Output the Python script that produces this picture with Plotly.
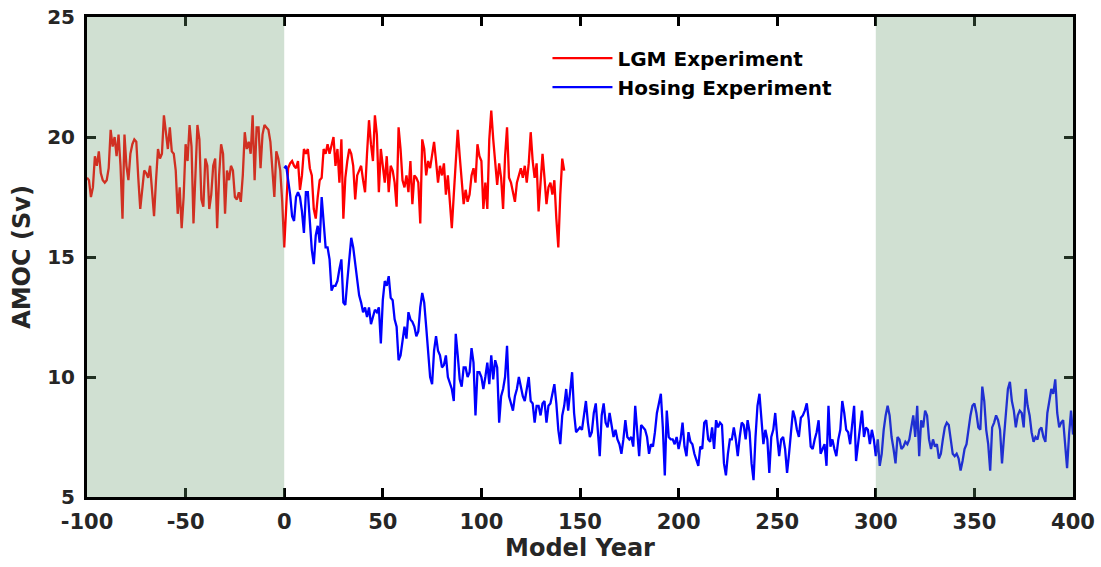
import plotly.graph_objects as go

# ---- data ----
lgm_start_year = -100
lgm_amoc = [
    18.3, 18.2, 17.5, 17.9, 19.2, 18.8, 19.4, 18.5, 18.2, 18.1,   # -100..-91
    18.2, 18.7, 20.3, 19.6, 20.0, 19.2, 20.1, 18.8, 16.6, 20.1,   # -90..-81
    18.8, 18.2, 19.3, 19.7, 19.9, 19.8, 18.3, 17.0, 17.8, 18.6,   # -80..-71
    18.5, 18.3, 18.8, 17.6, 16.7, 18.2, 19.5, 19.1, 19.3, 20.9,   # -70..-61
    20.1, 19.5, 20.4, 19.4, 19.3, 18.6, 16.8, 17.9, 16.2, 17.5,   # -60..-51
    19.7, 19.0, 20.5, 19.6, 16.4, 18.5, 20.5, 19.9, 17.4, 17.1,   # -50..-41
    19.1, 18.8, 17.0, 17.6, 18.8, 19.1, 16.2, 18.4, 19.7, 19.3,   # -40..-31
    16.8, 18.6, 18.2, 18.8, 18.6, 17.5, 17.4, 17.7, 17.3, 18.4,   # -30..-21
    20.2, 19.5, 19.8, 19.3, 20.9, 18.2, 20.4, 20.4, 18.7, 20.1,   # -20..-11
    20.5, 20.4, 20.3, 19.8, 18.4, 17.5, 19.4, 19.1, 18.6, 17.3,   # -10..-1
    15.4, 17.2, 18.7, 18.9, 19.0, 18.8, 18.7, 19.0, 17.8, 18.4,   # 0..9
    19.5, 19.3, 19.5, 18.7, 18.4, 17.0, 16.6, 17.5, 18.2, 18.3,   # 10..19
    19.5, 19.3, 19.7, 19.3, 19.6, 20.0, 18.8, 19.5, 18.1, 19.9,   # 20..29
    16.6, 18.3, 19.0, 19.5, 19.3, 18.8, 17.4, 18.4, 18.6, 18.8,   # 30..39
    18.2, 17.7, 19.3, 20.7, 19.7, 19.0, 20.9, 20.1, 17.7, 19.5,   # 40..49
    18.8, 18.1, 19.2, 17.7, 18.8, 18.6, 18.1, 17.1, 20.4, 19.5,   # 50..59
    18.2, 17.9, 18.4, 17.7, 19.0, 17.2, 18.4, 18.3, 18.1, 16.4,   # 60..69
    19.9, 19.5, 18.4, 19.0, 18.7, 19.2, 19.8, 19.0, 18.1, 18.8,   # 70..79
    18.4, 18.9, 17.6, 18.4, 17.3, 16.2, 17.6, 19.2, 20.3, 19.2,   # 80..89
    18.3, 17.2, 17.8, 17.3, 17.6, 18.4, 18.7, 18.1, 19.7, 19.2,   # 90..99
    19.0, 17.0, 18.1, 17.0, 19.9, 21.1, 19.9, 18.8, 18.0, 18.9,   # 100..109
    18.3, 17.0, 19.2, 20.4, 18.3, 18.1, 17.7, 17.3, 18.1, 18.4,   # 110..119
    18.7, 18.3, 18.8, 18.1, 18.9, 20.2, 19.0, 18.3, 18.9, 16.9,   # 120..129
    18.3, 19.3, 18.3, 17.2, 17.9, 18.1, 17.6, 18.2, 16.6, 15.4,   # 130..139
    17.6, 19.1, 18.6,                                             # 140..142
]

hosing_start_year = 0
hosing_amoc = [
    18.7, 18.8, 18.2, 17.6, 16.7, 16.5, 17.5, 17.7, 17.5, 16.9,   # 0..9
    16.0, 17.7, 17.7, 16.3, 15.3, 14.7, 15.9, 16.3, 15.6, 17.5,   # 10..19
    16.3, 15.4, 15.4, 14.9, 13.6, 13.8, 13.8, 14.0, 14.5, 14.9,   # 20..29
    13.1, 13.0, 14.0, 14.9, 15.8, 15.4, 14.7, 14.2, 13.4, 13.1,   # 30..39
    12.7, 12.9, 12.5, 12.9, 12.2, 12.5, 12.8, 12.7, 12.9, 11.4,   # 40..49
    13.2, 14.0, 13.8, 14.2, 13.3, 13.2, 12.4, 12.1, 10.7, 10.9,   # 50..59
    11.5, 12.1, 11.6, 12.7, 12.4, 12.3, 12.1, 11.7, 11.9, 12.9,   # 60..69
    13.5, 13.1, 12.1, 10.9, 10.0, 9.7, 11.1, 11.7, 11.1, 10.9,    # 70..79
    10.4, 10.5, 10.9, 10.0, 9.7, 9.5, 9.0, 11.8, 10.9, 9.9,       # 80..89
    9.6, 10.4, 10.4, 10.0, 10.2, 11.2, 10.6, 8.4, 10.2, 10.2,     # 90..99
    10.0, 9.5, 10.0, 10.6, 9.7, 10.9, 9.9, 10.7, 10.4, 8.1,       # 100..109
    9.2, 9.5, 10.0, 11.3, 9.2, 8.9, 8.6, 9.2, 9.5, 10.0,          # 110..119
    9.6, 9.2, 9.0, 9.6, 10.0, 9.0, 8.9, 8.1, 8.8, 8.8,            # 120..129
    8.4, 8.9, 9.0, 8.1, 8.8, 8.9, 9.3, 9.7, 8.9, 7.8,             # 130..139
    7.2, 8.4, 8.8, 9.5, 8.6, 9.5, 10.2, 8.5, 7.7, 7.8,            # 140..149
    7.9, 7.8, 8.5, 9.0, 8.1, 7.5, 7.7, 8.5, 8.9, 7.9,             # 150..159
    6.7, 8.4, 8.9, 8.1, 7.9, 8.5, 7.9, 7.5, 7.8, 7.4,             # 160..169
    7.2, 6.8, 7.4, 8.2, 7.5, 7.4, 7.5, 7.1, 8.8, 7.7,             # 170..179
    6.7, 8.0, 7.9, 7.8, 7.5, 6.8, 7.2, 7.1, 7.7, 8.5,             # 180..189
    8.9, 9.3, 7.9, 5.9, 8.6, 7.5, 7.4, 7.4, 7.2, 7.5,             # 190..199
    7.0, 7.4, 8.1, 7.1, 6.7, 7.7, 7.3, 7.2, 6.8, 6.5,             # 200..209
    6.3, 7.1, 7.0, 8.1, 8.2, 7.4, 7.3, 7.9, 7.0, 8.2,             # 210..219
    7.9, 8.1, 8.0, 6.4, 5.9, 6.8, 7.4, 7.4, 7.9, 7.4,             # 220..229
    6.7, 7.5, 8.1, 8.0, 7.4, 8.2, 7.7, 6.4, 5.7, 7.5,             # 230..239
    8.8, 9.3, 8.1, 7.2, 7.8, 7.4, 6.0, 7.5, 7.8, 8.5,             # 240..249
    7.5, 6.7, 7.4, 7.5, 7.0, 6.0, 6.8, 7.7, 8.6, 8.3,             # 250..259
    7.8, 7.5, 8.3, 8.4, 8.6, 8.9, 8.2, 7.1, 7.0, 7.4,             # 260..269
    7.7, 8.2, 6.8, 7.0, 7.2, 6.3, 8.8, 7.1, 7.4, 7.0,             # 270..279
    6.7, 7.4, 7.8, 9.0, 8.5, 7.8, 7.7, 7.2, 8.1, 8.8,             # 280..289
    6.5, 7.1, 7.9, 8.6, 7.5, 7.9, 7.8, 7.2, 7.8, 7.4,             # 290..299
    6.7, 7.4, 6.3, 6.8, 7.8, 8.4, 8.8, 8.4, 7.5, 7.0,             # 300..309
    6.4, 7.5, 7.4, 7.0, 7.1, 7.3, 7.2, 7.4, 7.9, 8.4,             # 310..319
    7.5, 8.8, 6.7, 8.2, 7.9, 8.6, 8.4, 7.4, 7.0, 7.4,             # 320..329
    7.1, 7.2, 6.6, 6.8, 7.4, 7.9, 8.1, 8.0, 7.4, 6.8,             # 330..339
    6.7, 6.8, 6.6, 6.1, 6.5, 7.0, 7.2, 7.9, 8.4, 8.8,             # 340..349
    8.9, 8.5, 7.9, 7.8, 9.6, 9.0, 7.8, 7.2, 6.1, 7.9,             # 350..359
    8.1, 8.4, 8.2, 7.8, 6.4, 7.5, 8.5, 9.5, 9.8, 9.0,             # 360..369
    8.6, 7.9, 8.4, 8.6, 8.5, 7.9, 9.5, 8.8, 8.4, 7.7,             # 370..379
    7.3, 7.5, 7.4, 7.8, 7.9, 7.5, 7.3, 8.5, 9.0, 9.5,             # 380..389
    9.3, 9.9, 8.5, 7.9, 8.1, 8.2, 7.2, 6.2, 7.6, 8.6,             # 390..399
    7.6,                                                          # 400
]

shaded_periods = [(-100, 0), (300, 400)]
x_ticks = [-100, -50, 0, 50, 100, 150, 200, 250, 300, 350, 400]
y_ticks = [5, 10, 15, 20, 25]

lgm_years = list(range(lgm_start_year, lgm_start_year + len(lgm_amoc)))
hosing_years = list(range(hosing_start_year, hosing_start_year + len(hosing_amoc)))

FONT = "DejaVu Sans"
TXT = "#262626"

fig = go.Figure()
fig.add_trace(go.Scatter(x=lgm_years, y=lgm_amoc, mode="lines",
                         line=dict(color="#ff0000", width=2.3), name="<b>LGM Experiment</b>"))
fig.add_trace(go.Scatter(x=hosing_years, y=hosing_amoc, mode="lines",
                         line=dict(color="#0000ff", width=2.3), name="<b>Hosing Experiment</b>"))

for x0, x1 in shaded_periods:
    fig.add_shape(type="rect", xref="x", yref="paper", x0=x0, x1=x1, y0=0, y1=1,
                  fillcolor="rgba(103,155,110,0.31)", line=dict(width=0), layer="above")

axis_common = dict(showline=True, linecolor="black", linewidth=3, mirror="ticks",
                   ticks="inside", ticklen=9, tickwidth=2.5, tickcolor="black",
                   showgrid=False, zeroline=False, automargin=False,
                   ticklabeloverflow="allow")

fig.update_xaxes(range=[-100, 400], tickvals=x_ticks, ticktext=[f"<b>{v}</b>" for v in x_ticks],
                 tickfont=dict(family=FONT, size=21, color=TXT), ticklabelstandoff=4,
                 title=dict(text="<b>Model Year</b>", font=dict(family=FONT, size=24, color=TXT), standoff=6),
                 **axis_common)
fig.update_yaxes(range=[5, 25], tickvals=y_ticks, ticktext=[f"<b>{v}</b>" for v in y_ticks],
                 tickfont=dict(family=FONT, size=20, color=TXT), ticklabelstandoff=5,
                 title=dict(text="<b>AMOC (Sv)</b>", font=dict(family=FONT, size=24, color=TXT), standoff=10),
                 **axis_common)

fig.update_layout(
    width=1101, height=567,
    margin=dict(l=87, r=28, t=17, b=70, autoexpand=False),
    plot_bgcolor="white", paper_bgcolor="white",
    font=dict(family=FONT, color=TXT),
    legend=dict(x=0.467, y=0.955, xanchor="left", yanchor="top",
                bgcolor="rgba(0,0,0,0)", borderwidth=0,
                font=dict(family=FONT, size=20, color="black"),
                itemwidth=60, tracegroupgap=0),
    showlegend=True,
)

# remove the browser's default 8px body margin so the figure fills the window exactly
fig.write_html("out.html",
               config={"displayModeBar": False},
               post_script="document.body.style.margin='0';document.body.style.overflow='hidden';")
